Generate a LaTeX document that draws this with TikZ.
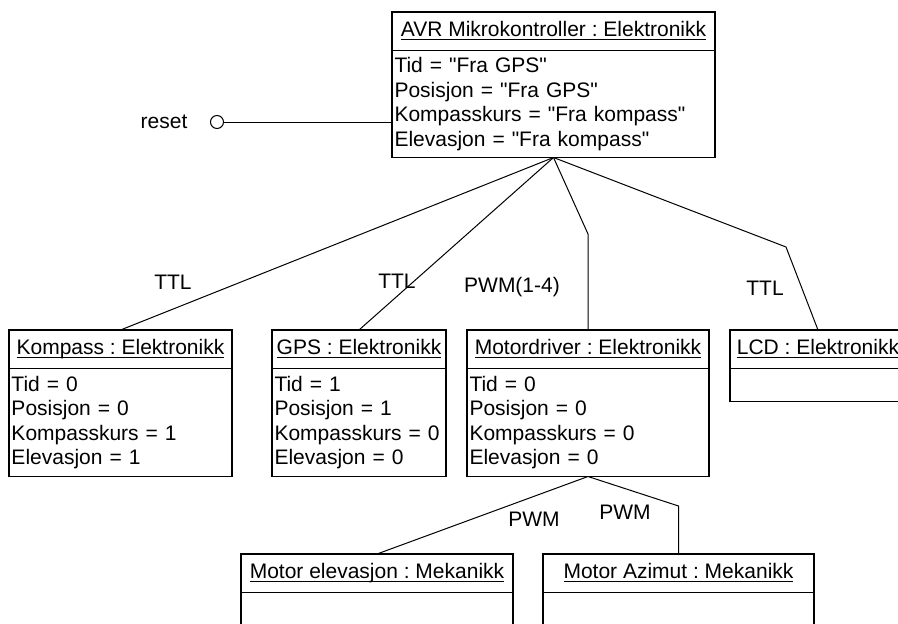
\documentclass[tikz,border=0pt]{standalone}
\usepackage{amsmath}
\usepackage{fontspec}
\setmainfont{Liberation Sans}[Ligatures=TeXOff]
\usetikzlibrary{positioning}
\newcommand{\objname}[1]{\underline{\smash[b]{#1}}}
\frenchspacing

\begin{document}
\begin{tikzpicture}[x=1pt,y=-1pt,font=\fontsize{21}{24.5}\selectfont,
  objhead/.style={draw,line width=1.6pt,outer sep=0pt,inner sep=0pt,minimum height=38.5pt,anchor=north west},
  objbody/.style={draw,line width=1.6pt,outer sep=0pt,inner xsep=2.5pt,inner ysep=0pt,align=left},
  wire/.style={line width=1pt}]
 \useasboundingbox (0,0) rectangle (898,624);
 % microcontroller
 \node[objhead,minimum width=323pt] (avr) at (392,12) {\objname{AVR Mikrokontroller : Elektronikk}};
 \node[objbody,below=0pt of avr,text width=318pt,minimum height=107pt] (avrbody)
  {Tid = "Fra GPS"\\Posisjon = "Fra GPS"\\Kompasskurs = "Fra kompass"\\Elevasjon = "Fra kompass"};
 % units on the bus
 \node[objhead,minimum width=223pt] (komp) at (9,330) {\objname{Kompass : Elektronikk}};
 \node[objbody,below=0pt of komp,text width=218pt,minimum height=108pt] (kompbody)
  {Tid = 0\\Posisjon = 0\\Kompasskurs = 1\\Elevasjon = 1};
 \node[objhead,minimum width=174pt] (gps) at (272,330) {\objname{GPS : Elektronikk}};
 \node[objbody,below=0pt of gps,text width=169pt,minimum height=108pt] (gpsbody)
  {Tid = 1\\Posisjon = 1\\Kompasskurs = 0\\Elevasjon = 0};
 \node[objhead,minimum width=242pt] (motdrv) at (467,330) {\objname{Motordriver : Elektronikk}};
 \node[objbody,below=0pt of motdrv,text width=237pt,minimum height=108pt] (motdrvbody)
  {Tid = 0\\Posisjon = 0\\Kompasskurs = 0\\Elevasjon = 0};
 \node[objhead,minimum width=176pt] (lcd) at (730,330) {\objname{LCD : Elektronikk}};
 \node[objbody,below=0pt of lcd,text width=171pt,minimum height=33pt] (lcdbody) {};
 % motors
 \node[objhead,minimum width=272pt] (motelev) at (241,554) {\objname{Motor elevasjon : Mekanikk}};
 \node[objbody,below=0pt of motelev,text width=267pt,minimum height=50pt] (motelevbody) {};
 \node[objhead,minimum width=271pt] (motazi) at (543,554) {\objname{Motor Azimut : Mekanikk}};
 \node[objbody,below=0pt of motazi,text width=266pt,minimum height=50pt] (motazibody) {};
 % reset pin
 \node (resetlbl) at (164,122) {reset};
 \node[draw,circle,line width=1pt,minimum size=13pt,inner sep=0pt] (resetpin) at (217,122) {};
 \draw[wire] (resetpin.east) -- (resetpin.east -| avrbody.west);
 % links
 \draw[wire] (avrbody.south) -- (komp.north);
 \draw[wire] (avrbody.south) -- (gps.north);
 \draw[wire] (avrbody.south) -- ([yshift=96pt]motdrv.north) -- (motdrv.north);
 \draw[wire] (avrbody.south) -- ([xshift=-32pt,yshift=83pt]lcd.north) -- (lcd.north);
 \draw[wire] (motdrvbody.south) -- (motelev.north);
 \draw[wire] (motdrvbody.south) -- ([yshift=48pt]motazi.north) -- (motazi.north);
 \node (ttlkomp) at (173,282) {TTL};
 \node (ttlgps) at (397,281) {TTL};
 \node (pwmdrv) at (512,287) {PWM(1-4)};
 \node (ttllcd) at (765,288) {TTL};
 \node (pwmelev) at (534,519) {PWM};
 \node (pwmazi) at (625,512) {PWM};
\end{tikzpicture}
\end{document}
